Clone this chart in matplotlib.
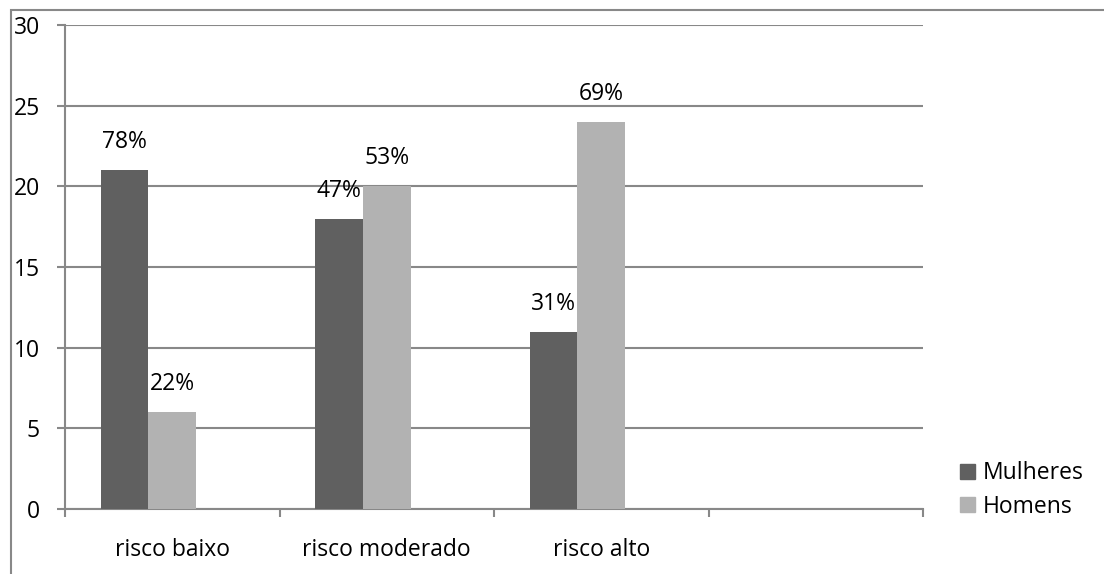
import matplotlib
matplotlib.use("Agg")
import matplotlib.pyplot as plt
from matplotlib.patches import Rectangle
import numpy as np

# Data
categories = ["risco baixo", "risco moderado", "risco alto", ""]
series_names = ["Mulheres", "Homens"]
mulheres = [21, 18, 11]
homens = [6, 20, 24]
mulheres_pct = ["78%", "47%", "31%"]
homens_pct = ["22%", "53%", "69%"]
y_ticks = [0, 5, 10, 15, 20, 25, 30]

dark = "#606060"
light = "#b2b2b2"
grid_col = "#888888"
fs = 16.5

plt.rcParams["font.family"] = ["Open Sans", "DejaVu Sans"]

fig = plt.figure(figsize=(11.04, 5.74), dpi=100)
ax = fig.add_axes([65 / 1104, 1 - 509 / 574, (923 - 65) / 1104, (509 - 25) / 574])

# Outer chart border (clipped by the figure edge)
fig.patches.append(Rectangle((10.5 / 1104, -0.1), 1.2, 1 - 9.5 / 574 + 0.1,
                             transform=fig.transFigure, fill=False,
                             edgecolor=grid_col, linewidth=1.5))

w = 0.2215
n = len(mulheres)
x = np.arange(n)
ax.bar(x - w, mulheres, width=w, color=dark, zorder=3, label=series_names[0])
ax.bar(x, homens, width=w, color=light, zorder=3, label=series_names[1])

for xi, v, t in zip(x - w, mulheres, mulheres_pct):
    ax.annotate(t, (xi, v), xytext=(0, 28), textcoords="offset pixels",
                ha="center", va="center", fontsize=fs, color="black")
for xi, v, t in zip(x, homens, homens_pct):
    ax.annotate(t, (xi, v), xytext=(0, 28), textcoords="offset pixels",
                ha="center", va="center", fontsize=fs, color="black")

ax.set_xlim(-0.5, len(categories) - 0.5)
ax.set_ylim(0, 30)
ax.set_yticks(y_ticks)
ax.set_yticklabels([str(t) for t in y_ticks], fontsize=fs)
ax.yaxis.grid(True, color=grid_col, linewidth=1.5, zorder=0)
ax.set_axisbelow(True)

ax.set_xticks(np.arange(len(categories)))
ax.set_xticklabels(categories, fontsize=fs)
ax.set_xticks(np.arange(len(categories) + 1) - 0.5, minor=True)
ax.tick_params(axis="x", which="major", length=0, pad=21)
ax.tick_params(axis="x", which="minor", length=6, width=1.5, color=grid_col, direction="out")
ax.tick_params(axis="y", length=6, width=1.5, color=grid_col, pad=12)

for s in ["top", "right"]:
    ax.spines[s].set_visible(False)
for s in ["left", "bottom"]:
    ax.spines[s].set_color(grid_col)
    ax.spines[s].set_linewidth(1.5)

handles = [Rectangle((0, 0), 1, 1, color=dark), Rectangle((0, 0), 1, 1, color=light)]
fig.legend(handles, series_names, loc="center left",
           bbox_to_anchor=(960 / 1104, 1 - 490 / 574), frameon=False,
           fontsize=fs, handlelength=0.65, handleheight=0.65, handletextpad=0.35,
           labelspacing=0.4, borderaxespad=0, borderpad=0)

fig.savefig("out.png", dpi=100)
